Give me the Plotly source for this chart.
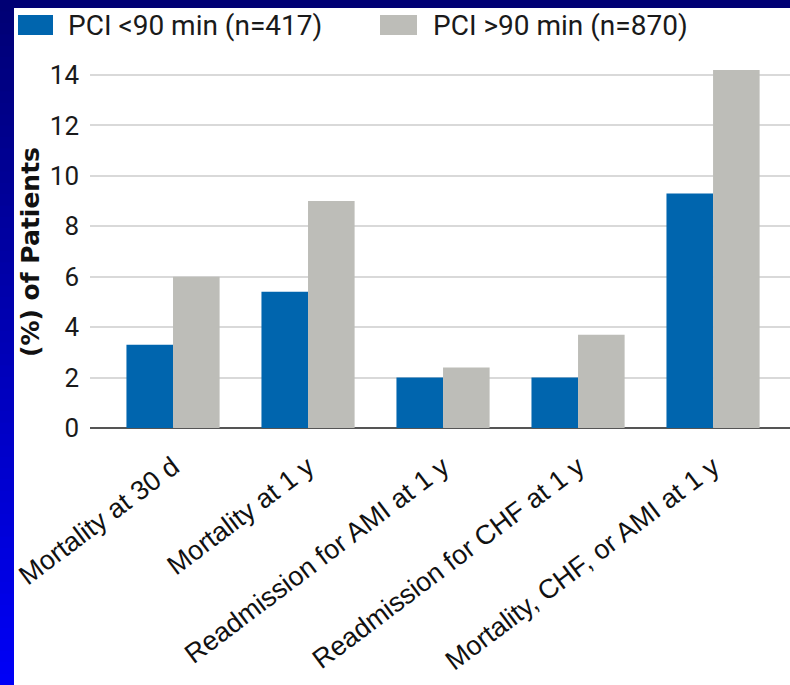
import plotly.graph_objects as go

# Outcome categories and event rates (% of patients) per door-to-balloon group
categories = [
    "Mortality at 30 d",
    "Mortality at 1 y",
    "Readmission for AMI at 1 y",
    "Readmission for CHF at 1 y",
    "Mortality, CHF, or AMI at 1 y",
]
pci_fast = [3.3, 5.4, 2.0, 2.0, 9.3]
pci_slow = [6.0, 9.0, 2.4, 3.7, 14.2]
series_names = ["PCI <90 min (n=417)", "PCI >90 min (n=870)"]
series_colors = ["#0065ae", "#bdbdb8"]
y_ticks = [0, 2, 4, 6, 8, 10, 12, 14]

W, H = 790, 685
M_L, M_R, M_T, M_B = 90, 0, 62, 257
PW, PH = W - M_L - M_R, H - M_T - M_B


def px(x):
    return (x - M_L) / PW


def py(y):
    return (H - M_B - y) / PH


fig = go.Figure()
for vals, name, col in zip([pci_fast, pci_slow], series_names, series_colors):
    fig.add_trace(go.Bar(x=list(range(len(categories))), y=vals, name=name,
                         marker=dict(color=col, line=dict(width=0)),
                         showlegend=False))

shapes = []
# left strip shading from navy at the top to bright blue at the bottom;
# each band runs to the bottom edge so no seams appear between bands
n_bands = 60
for i in range(n_bands):
    t = i / (n_bands - 1)
    b = int(round(0x74 + (0xf6 - 0x74) * t))
    y0 = H * i / n_bands
    shapes.append(dict(type="rect", xref="paper", yref="paper", x0=px(0), x1=px(14),
                       y0=py(y0), y1=py(H), fillcolor=f"rgb(0,0,{b})",
                       line=dict(width=0)))
# top band
shapes.append(dict(type="rect", xref="paper", yref="paper", x0=px(0), x1=px(W),
                   y0=py(0), y1=py(8), fillcolor="#000074", line=dict(width=0)))

# legend swatches and labels
legend_items = [(18, 53, 68), (380, 417, 433)]
annotations = []
for (sx0, sx1, tx), name, col in zip(legend_items, series_names, series_colors):
    shapes.append(dict(type="rect", xref="paper", yref="paper", x0=px(sx0), x1=px(sx1),
                       y0=py(35), y1=py(15), fillcolor=col, line=dict(width=0)))
    annotations.append(dict(xref="paper", yref="paper", x=px(tx - 2), y=py(25),
                            xanchor="left", yanchor="middle", showarrow=False,
                            text=name, font=dict(family="Roboto", size=28, color="#1a1a1a")))

annotations.append(dict(xref="paper", yref="paper", x=px(30), y=py(252),
                        xanchor="center", yanchor="middle", showarrow=False, textangle=-90,
                        text="(%) of Patients",
                        font=dict(family="DejaVu Sans", size=25, color="#111111", weight="bold")))

fig.update_layout(
    width=W, height=H,
    margin=dict(l=M_L, r=M_R, t=M_T, b=M_B, autoexpand=False),
    paper_bgcolor="white", plot_bgcolor="white",
    barmode="group", bargap=0.31, bargroupgap=0,
    shapes=shapes, annotations=annotations,
    xaxis=dict(range=[-0.615, 4.57], tickmode="array",
               tickvals=list(range(len(categories))), ticktext=categories,
               tickangle=-37, showgrid=False, zeroline=False, showline=False,
               ticks="", ticklabelstandoff=17,
               tickfont=dict(family="Liberation Sans", size=27, color="#111111")),
    yaxis=dict(range=[0, PH / ((428 - 75) / 14)], tickmode="array", tickvals=y_ticks,
               showgrid=True, gridcolor="#d9d9d9", gridwidth=1.5,
               zeroline=True, zerolinecolor="#555555", zerolinewidth=2,
               showline=False, ticks="", ticklabelstandoff=10,
               tickfont=dict(family="Roboto", size=26, color="#1a1a1a")),
)

fig.write_html("out.html")
